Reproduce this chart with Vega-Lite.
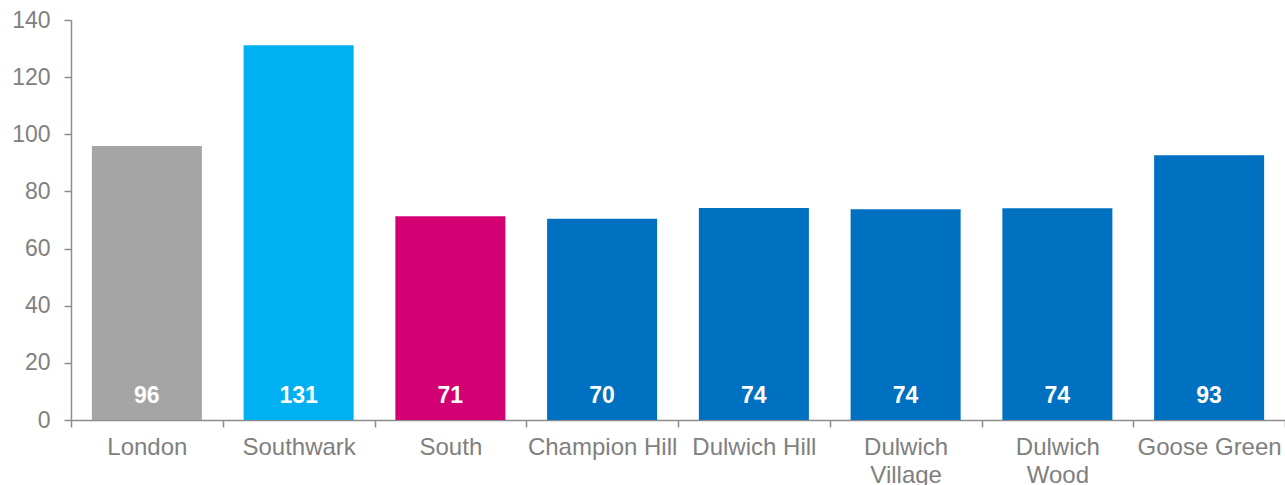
{
  "$schema": "https://vega.github.io/schema/vega-lite/v6.json",
  "width": 1214,
  "height": 400,
  "autosize": {"type": "none"},
  "padding": {"left": 71, "top": 20, "right": 0, "bottom": 65},
  "background": "white",
  "config": {"view": {"stroke": null}, "font": "Liberation Sans"},
  "data": {"values": [
    {"area": "London", "value": 95.9, "color": "#a5a5a5"},
    {"area": "Southwark", "value": 131.2, "color": "#00b0f0"},
    {"area": "South", "value": 71.3, "color": "#d20073"},
    {"area": "Champion Hill", "value": 70.4, "color": "#0070c0"},
    {"area": "Dulwich Hill", "value": 74.2, "color": "#0070c0"},
    {"area": "Dulwich Village", "value": 73.8, "color": "#0070c0"},
    {"area": "Dulwich Wood", "value": 74.1, "color": "#0070c0"},
    {"area": "Goose Green", "value": 92.7, "color": "#0070c0"}
  ]},
  "encoding": {
    "x": {"field": "area", "type": "nominal", "sort": null,
      "scale": {"paddingInner": 0, "paddingOuter": 0},
      "axis": {"title": null, "labelAngle": 0, "tickBand": "extent", "tickSize": 7,
        "domainColor": "#8c8c8c", "tickColor": "#8c8c8c", "domainWidth": 1.5, "tickWidth": 1.5,
        "labelColor": "#808080", "labelFontSize": 24, "labelPadding": 8, "labelLineHeight": 28,
        "labelBaseline": "top", "labelOverlap": false,
        "labelExpr": "datum.label == 'Dulwich Village' ? ['Dulwich', 'Village'] : datum.label == 'Dulwich Wood' ? ['Dulwich', 'Wood'] : datum.label"}}
  },
  "layer": [
    {"mark": {"type": "bar", "width": {"band": 0.725}},
     "encoding": {
       "y": {"field": "value", "type": "quantitative",
         "scale": {"domain": [0, 140], "nice": false},
         "axis": {"title": null, "values": [0, 20, 40, 60, 80, 100, 120, 140], "grid": false,
           "tickSize": 7, "domainColor": "#8c8c8c", "tickColor": "#8c8c8c", "domainWidth": 1.5, "tickWidth": 1.5,
           "labelColor": "#808080", "labelFontSize": 23, "labelPadding": 14}},
       "color": {"field": "color", "type": "nominal", "scale": null}
     }},
    {"mark": {"type": "text", "color": "white", "fontWeight": "bold", "fontSize": 23, "baseline": "middle", "dy": -24},
     "encoding": {
       "y": {"datum": 0, "type": "quantitative"},
       "text": {"field": "value", "type": "quantitative", "format": ".0f"}
     }}
  ]
}
